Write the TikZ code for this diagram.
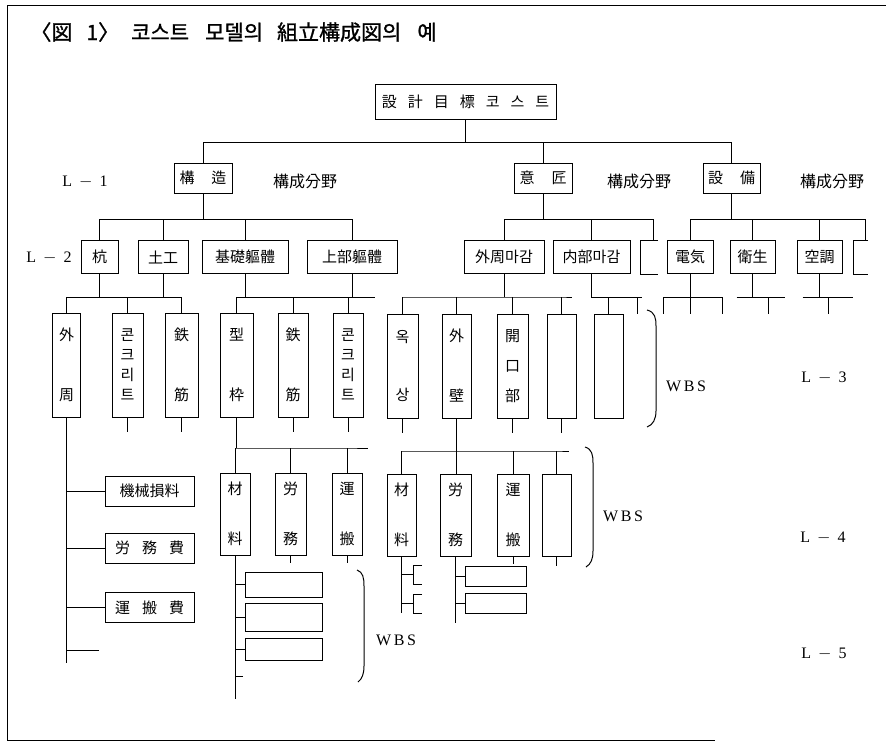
\documentclass[tikz,border=0pt]{standalone}
\usepackage{fontspec}
\setmainfont{Liberation Serif}
\newfontfamily\kr{Noto Sans CJK KR}
\newfontfamily\krtitle[FakeBold=1.2]{Noto Sans CJK KR}
\newcommand{\kgap}{\hspace{11pt}}
\newcommand{\lvl}[1]{L\hspace{7pt}$-$\hspace{7pt}#1}

\begin{document}
\begin{tikzpicture}[x=1pt,y=-1pt,line width=1pt,
    box/.style={draw, inner sep=0pt, font=\kr\fontsize{15}{17}\selectfont},
    lone/.style={box, minimum height=30pt},
    ltwo/.style={box, minimum height=33pt},
    lthree/.style={box, minimum height=104pt, align=center},
    lfour/.style={box, minimum height=82pt, align=center},
    cost/.style={box, minimum width=89pt, minimum height=30pt},
    lfive/.style={box, minimum width=77pt},
    level/.style={font=\fontsize{16}{18}\selectfont},
    field/.style={font=\kr\fontsize{16}{18}\selectfont}]
    \useasboundingbox (0,0) rectangle (886,742);
    % frame
    \draw (886,5) -- (7,5) -- (7,740) -- (715,740);
    \node[anchor=base west, inner sep=0pt, font=\krtitle\fontsize{21}{23}\selectfont] (title) at (30,40)
        {〈図\hspace{14pt}1〉\hspace{12pt}코스트\hspace{16pt}모델의\hspace{14pt}組立構成図의\hspace{16pt}예};

    % top box
    \node[box, minimum width=181pt, minimum height=35pt] (top) at (465.5,101.5)
        {設\kgap 計\kgap 目\kgap 標\kgap 코\kgap 스\kgap 트};

    % L-1
    \node[level] (l1) at (85,182) {\lvl{1}};
    \node[lone, minimum width=58pt] (kozo) at (203,178) {構\hspace{17pt}造};
    \node[lone, minimum width=58pt] (isho) at (543,178) {意\hspace{17pt}匠};
    \node[lone, minimum width=57pt] (setsubi) at (731.5,178) {設\hspace{17pt}備};
    \node[field] (f1) at (305,181) {構成分野};
    \node[field] (f2) at (639,181) {構成分野};
    \node[field] (f3) at (832,181) {構成分野};
    \coordinate (bus1) at (0,142);
    \draw (top.south) -- (top.south |- bus1);
    \draw (kozo.north |- bus1) -- (setsubi.north |- bus1);
    \foreach \n in {kozo,isho,setsubi}
        \draw (\n.north) -- (\n.north |- bus1);

    % L-2
    \node[level] (l2) at (49,258) {\lvl{2}};
    \node[ltwo, minimum width=37pt] (kui) at (99.5,257) {杭};
    \node[ltwo, minimum width=50pt] (doko) at (163,257) {土工};
    \node[ltwo, minimum width=86pt] (kiso) at (245,257) {基礎軀體};
    \node[ltwo, minimum width=90pt] (jobu) at (352,257) {上部軀體};
    \node[ltwo, minimum width=80pt] (gaishu) at (504,257) {外周마감};
    \node[ltwo, minimum width=77pt] (naibu) at (591.5,257) {内部마감};
    \node[ltwo, minimum width=46pt] (denki) at (690,257) {電気};
    \node[ltwo, minimum width=45pt] (eisei) at (752.5,257) {衛生};
    \node[ltwo, minimum width=45pt] (kucho) at (819.5,257) {空調};
    \draw (658,240) -- (640,240) -- (640,274) -- (658,274);
    \draw (868,240) -- (853,240) -- (853,274) -- (868,274);
    \coordinate (cut1) at (653,240);
    \coordinate (cut2) at (865,240);
    \coordinate (bus2) at (0,219);
    \draw (kozo.south) -- (kozo.south |- bus2);
    \draw (kui.north |- bus2) -- (jobu.north |- bus2);
    \foreach \n in {kui,doko,kiso,jobu}
        \draw (\n.north) -- (\n.north |- bus2);
    \draw (isho.south) -- (isho.south |- bus2);
    \draw (gaishu.north |- bus2) -- (cut1 |- bus2) -- (cut1);
    \foreach \n in {gaishu,naibu}
        \draw (\n.north) -- (\n.north |- bus2);
    \draw (setsubi.south) -- (setsubi.south |- bus2);
    \draw (denki.north |- bus2) -- (cut2 |- bus2) -- (cut2);
    \foreach \n in {denki,eisei,kucho}
        \draw (\n.north) -- (\n.north |- bus2);

    % L-3
    \node[lthree, minimum width=28pt] (gaishuA) at (66.5,365) {外\\[43pt]周};
    \node[lthree, minimum width=31pt] (con1) at (127.5,365) {콘\\[3pt]크\\[3pt]리\\[3pt]트};
    \node[lthree, minimum width=33pt] (tekkin1) at (181.5,365) {鉄\\[43pt]筋};
    \node[lthree, minimum width=33pt] (kata) at (236.5,365) {型\\[43pt]枠};
    \node[lthree, minimum width=30pt] (tekkin2) at (293,365) {鉄\\[43pt]筋};
    \node[lthree, minimum width=30pt] (con2) at (348,365) {콘\\[3pt]크\\[3pt]리\\[3pt]트};
    \node[lthree, minimum width=31pt] (okusho) at (402.5,366) {옥\\[41pt]상};
    \node[lthree, minimum width=29pt] (gaiheki) at (456.5,366) {外\\[43pt]壁};
    \node[lthree, minimum width=31pt] (kaikou) at (512.5,366) {開\\[13pt]口\\[13pt]部};
    \node[lthree, minimum width=29pt] (empty1) at (561.5,366) {};
    \node[lthree, minimum width=29pt] (empty2) at (608.5,366) {};
    \coordinate (bus3) at (0,297);
    \draw (kui.south) -- (kui.south |- bus3);
    \draw (doko.south) -- (doko.south |- bus3);
    \draw (gaishuA.north |- bus3) -- (tekkin1.north |- bus3);
    \foreach \n in {gaishuA,con1,tekkin1}
        \draw (\n.north) -- (\n.north |- bus3);
    \draw (kiso.south) -- (kiso.south |- bus3);
    \draw (kata.north |- bus3) -- (con2.north |- bus3);
    \foreach \n in {kata,tekkin2,con2}
        \draw (\n.north) -- (\n.north |- bus3);
    \draw (jobu.south) -- (jobu.south |- bus3);
    \draw (jobu.south |- bus3) +(-7,0) -- +(23,0);
    \draw (gaishu.south) -- (gaishu.south |- bus3);
    \draw (okusho.north |- bus3) -- (empty1.north |- bus3) -- +(10,0);
    \foreach \n in {okusho,gaiheki,kaikou,empty1}
        \draw (\n.north) -- (\n.north |- bus3);
    \draw (naibu.south) -- (naibu.south |- bus3) -- +(50,0);
    \draw (empty2.north) -- (empty2.north |- bus3);
    \draw (naibu.south |- bus3) ++(46,0) -- +(0,17);
    \draw (denki.south) -- (denki.south |- bus3);
    \draw (denki.south |- bus3) +(-27,0) -- +(32,0);
    \foreach \dx in {-27,0,32}
        \draw (denki.south |- bus3) ++(\dx,0) -- +(0,17);
    \draw (eisei.south) -- (eisei.south |- bus3);
    \draw (eisei.south |- bus3) +(-16,0) -- +(32,0);
    \draw (eisei.south |- bus3) ++(16,0) -- +(0,17);
    \draw (kucho.south) -- (kucho.south |- bus3);
    \draw (kucho.south |- bus3) +(-17,0) -- +(33,0);
    \draw (kucho.south |- bus3) ++(9,0) -- +(0,17);
    \foreach \n in {con1,tekkin1,tekkin2,con2,okusho,kaikou,empty1}
        \draw (\n.south) -- +(0,14);
    % brace L-3
    \draw (647,310) .. controls (655,312) and (656,318) .. (656,326) -- (656,411)
        .. controls (656,419) and (653,425) .. (647,427);
    \node[level] (wbs3) at (686,386) {W\,B\,S};
    \node[level] (l3) at (824,378) {\lvl{3}};

    % cost items under the first tall box
    \node[cost] (kikai) at (149.5,491) {機械損料};
    \node[cost] (roumuhi) at (149.5,548) {労\hspace{12pt}務\hspace{12pt}費};
    \node[cost] (unpanhi) at (149.5,607.5) {運\hspace{12pt}搬\hspace{12pt}費};
    \coordinate (c5) at (99,650);
    \draw (gaishuA.south) -- +(0,245);
    \foreach \n in {kikai,roumuhi,unpanhi}
        \draw (\n.west) -- (\n.west -| gaishuA.south);
    \draw (c5) -- (c5 -| gaishuA.south);

    % L-4
    \node[lfour, minimum width=30pt] (zairyo1) at (235,514) {材\\[33pt]料};
    \node[lfour, minimum width=31pt] (roumu1) at (290.5,514) {労\\[33pt]務};
    \node[lfour, minimum width=30pt] (unpan1) at (347,514) {運\\[33pt]搬};
    \node[lfour, minimum width=29pt] (zairyo2) at (401.5,515) {材\\[33pt]料};
    \node[lfour, minimum width=31pt] (roumu2) at (455.5,515) {労\\[33pt]務};
    \node[lfour, minimum width=32pt] (unpan2) at (513,515) {運\\[33pt]搬};
    \node[lfour, minimum width=29pt] (empty3) at (556.5,515) {};
    \coordinate (bus4) at (0,448);
    \coordinate (bus5) at (0,451);
    \draw (kata.south) -- (kata.south |- bus4);
    \draw (zairyo1.north |- bus4) -- (unpan1.north |- bus4) -- +(21,0);
    \foreach \n in {zairyo1,roumu1,unpan1}
        \draw (\n.north) -- (\n.north |- bus4);
    \draw (gaiheki.south) -- (gaiheki.south |- roumu2.north);
    \draw (zairyo2.north |- bus5) -- (empty3.north |- bus5) -- +(12,0);
    \foreach \n in {zairyo2,unpan2,empty3}
        \draw (\n.north) -- (\n.north |- bus5);
    \foreach \n in {roumu1,unpan1,unpan2}
        \draw (\n.south) -- +(0,7);
    \draw (empty3.south) -- +(0,9);
    % brace L-4
    \draw (585,447) .. controls (592,449) and (593,455) .. (593,463) -- (593,551)
        .. controls (593,559) and (591,564) .. (586,567);
    \node[level] (wbs4) at (623,516) {W\,B\,S};
    \node[level] (l4) at (823,538) {\lvl{4}};

    % L-5
    \node[lfive, minimum height=25pt] (wa) at (283.5,584.5) {};
    \node[lfive, minimum height=28pt] (wb) at (283.5,617) {};
    \node[lfive, minimum height=22pt] (wc) at (283.5,649) {};
    \coordinate (c6) at (243,676);
    \draw (zairyo1.south) -- +(0,143);
    \foreach \n in {wa,wb,wc}
        \draw (\n.west) -- (\n.west -| zairyo1.south);
    \draw (c6) -- (c6 -| zairyo1.south);
    % brace L-5
    \draw (357,570) .. controls (363,572) and (364,578) .. (364,586) -- (364,666)
        .. controls (364,674) and (362,679) .. (358,682);
    \node[level] (wbs5) at (396,640) {W\,B\,S};
    \node[level] (l5) at (824,654) {\lvl{5}};

    \node[box, minimum width=61pt, minimum height=20pt] (ra) at (495.5,576) {};
    \node[box, minimum width=61pt, minimum height=20pt] (rb) at (495.5,603) {};
    \draw (roumu2.south) -- +(0,66);
    \foreach \n in {ra,rb}
        \draw (\n.west) -- (\n.west -| roumu2.south);
    \coordinate (br1) at (413,574);
    \coordinate (br2) at (413,603);
    \draw (zairyo2.south) -- +(0,56);
    \foreach \b in {br1,br2} {
        \draw (\b) -- (\b -| zairyo2.south);
        \draw (\b) ++(9,-9) -- ++(-9,0) -- ++(0,19) -- ++(9,0);
    }
\end{tikzpicture}
\end{document}
